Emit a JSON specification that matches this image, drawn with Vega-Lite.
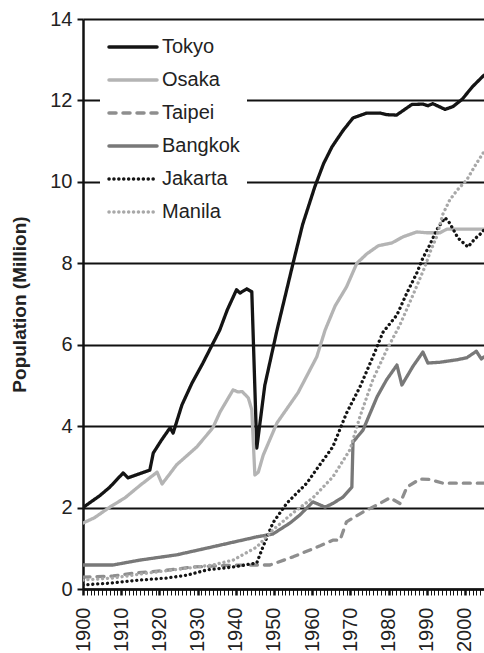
{
  "$schema": "https://vega.github.io/schema/vega-lite/v6.json",
  "autosize": {"type": "none"},
  "width": 401,
  "height": 570,
  "padding": {"left": 83, "top": 19, "right": 0, "bottom": 64},
  "background": "white",
  "config": {
    "font": "Liberation Sans",
    "view": {"stroke": null}
  },
  "data": {
    "values": [
      {"city": "Tokyo", "year": 1900, "pop": 2.0},
      {"city": "Tokyo", "year": 1904.5, "pop": 2.3},
      {"city": "Tokyo", "year": 1907, "pop": 2.5},
      {"city": "Tokyo", "year": 1910.5, "pop": 2.85},
      {"city": "Tokyo", "year": 1911.8, "pop": 2.73},
      {"city": "Tokyo", "year": 1917.5, "pop": 2.92},
      {"city": "Tokyo", "year": 1918.4, "pop": 3.34},
      {"city": "Tokyo", "year": 1920.5, "pop": 3.65},
      {"city": "Tokyo", "year": 1922.8, "pop": 3.96},
      {"city": "Tokyo", "year": 1923.6, "pop": 3.83},
      {"city": "Tokyo", "year": 1925.9, "pop": 4.52},
      {"city": "Tokyo", "year": 1928.5, "pop": 5.05},
      {"city": "Tokyo", "year": 1931.4, "pop": 5.55},
      {"city": "Tokyo", "year": 1935.8, "pop": 6.36},
      {"city": "Tokyo", "year": 1937.8, "pop": 6.86},
      {"city": "Tokyo", "year": 1940.2, "pop": 7.35},
      {"city": "Tokyo", "year": 1941.1, "pop": 7.27},
      {"city": "Tokyo", "year": 1942.9, "pop": 7.37},
      {"city": "Tokyo", "year": 1944.2, "pop": 7.3},
      {"city": "Tokyo", "year": 1945.5, "pop": 3.46},
      {"city": "Tokyo", "year": 1947.6, "pop": 5.0},
      {"city": "Tokyo", "year": 1950.8, "pop": 6.36},
      {"city": "Tokyo", "year": 1955, "pop": 8.0},
      {"city": "Tokyo", "year": 1957.5, "pop": 8.95},
      {"city": "Tokyo", "year": 1960.7, "pop": 9.88},
      {"city": "Tokyo", "year": 1963, "pop": 10.45},
      {"city": "Tokyo", "year": 1965.2, "pop": 10.86},
      {"city": "Tokyo", "year": 1968, "pop": 11.25},
      {"city": "Tokyo", "year": 1970.7, "pop": 11.57},
      {"city": "Tokyo", "year": 1974.3, "pop": 11.69},
      {"city": "Tokyo", "year": 1977.7, "pop": 11.69},
      {"city": "Tokyo", "year": 1979.5, "pop": 11.65},
      {"city": "Tokyo", "year": 1982.1, "pop": 11.64},
      {"city": "Tokyo", "year": 1986.1, "pop": 11.9},
      {"city": "Tokyo", "year": 1989, "pop": 11.91},
      {"city": "Tokyo", "year": 1990.3, "pop": 11.87},
      {"city": "Tokyo", "year": 1991.6, "pop": 11.92},
      {"city": "Tokyo", "year": 1994.8, "pop": 11.78},
      {"city": "Tokyo", "year": 1996.9, "pop": 11.85},
      {"city": "Tokyo", "year": 1999.3, "pop": 12.03},
      {"city": "Tokyo", "year": 2002, "pop": 12.34},
      {"city": "Tokyo", "year": 2005, "pop": 12.62},

      {"city": "Osaka", "year": 1900, "pop": 1.62},
      {"city": "Osaka", "year": 1903, "pop": 1.75},
      {"city": "Osaka", "year": 1907, "pop": 2.01},
      {"city": "Osaka", "year": 1911, "pop": 2.24},
      {"city": "Osaka", "year": 1915, "pop": 2.55},
      {"city": "Osaka", "year": 1919.4, "pop": 2.87},
      {"city": "Osaka", "year": 1920.7, "pop": 2.58},
      {"city": "Osaka", "year": 1922.5, "pop": 2.8},
      {"city": "Osaka", "year": 1924.5, "pop": 3.05},
      {"city": "Osaka", "year": 1929.8, "pop": 3.49},
      {"city": "Osaka", "year": 1934, "pop": 3.96},
      {"city": "Osaka", "year": 1935.9, "pop": 4.35},
      {"city": "Osaka", "year": 1939.3, "pop": 4.89},
      {"city": "Osaka", "year": 1940.6, "pop": 4.84},
      {"city": "Osaka", "year": 1941.7, "pop": 4.85},
      {"city": "Osaka", "year": 1943.3, "pop": 4.69},
      {"city": "Osaka", "year": 1944.2, "pop": 4.4},
      {"city": "Osaka", "year": 1945, "pop": 2.8},
      {"city": "Osaka", "year": 1945.9, "pop": 2.87},
      {"city": "Osaka", "year": 1947.2, "pop": 3.29},
      {"city": "Osaka", "year": 1950.8, "pop": 4.08},
      {"city": "Osaka", "year": 1956.3, "pop": 4.82},
      {"city": "Osaka", "year": 1961.2, "pop": 5.7},
      {"city": "Osaka", "year": 1963.4, "pop": 6.36},
      {"city": "Osaka", "year": 1966, "pop": 6.95},
      {"city": "Osaka", "year": 1969, "pop": 7.42},
      {"city": "Osaka", "year": 1971.7, "pop": 8.0},
      {"city": "Osaka", "year": 1974.3, "pop": 8.23},
      {"city": "Osaka", "year": 1977.3, "pop": 8.43},
      {"city": "Osaka", "year": 1980.9, "pop": 8.5},
      {"city": "Osaka", "year": 1983.8, "pop": 8.65},
      {"city": "Osaka", "year": 1987.4, "pop": 8.77},
      {"city": "Osaka", "year": 1990, "pop": 8.75},
      {"city": "Osaka", "year": 1993.5, "pop": 8.75},
      {"city": "Osaka", "year": 1995.3, "pop": 8.84},
      {"city": "Osaka", "year": 2005, "pop": 8.84},

      {"city": "Taipei", "year": 1900, "pop": 0.29},
      {"city": "Taipei", "year": 1907.9, "pop": 0.32},
      {"city": "Taipei", "year": 1913.2, "pop": 0.39},
      {"city": "Taipei", "year": 1921, "pop": 0.45},
      {"city": "Taipei", "year": 1928.9, "pop": 0.54},
      {"city": "Taipei", "year": 1937.6, "pop": 0.58},
      {"city": "Taipei", "year": 1945.5, "pop": 0.59},
      {"city": "Taipei", "year": 1949, "pop": 0.59},
      {"city": "Taipei", "year": 1955, "pop": 0.79},
      {"city": "Taipei", "year": 1962.1, "pop": 1.06},
      {"city": "Taipei", "year": 1965.4, "pop": 1.2},
      {"city": "Taipei", "year": 1967.3, "pop": 1.2},
      {"city": "Taipei", "year": 1969, "pop": 1.65},
      {"city": "Taipei", "year": 1973.3, "pop": 1.89},
      {"city": "Taipei", "year": 1977.7, "pop": 2.1},
      {"city": "Taipei", "year": 1980.4, "pop": 2.24},
      {"city": "Taipei", "year": 1983, "pop": 2.1},
      {"city": "Taipei", "year": 1984.8, "pop": 2.5},
      {"city": "Taipei", "year": 1988.2, "pop": 2.7},
      {"city": "Taipei", "year": 1990.8, "pop": 2.69},
      {"city": "Taipei", "year": 1994.2, "pop": 2.6},
      {"city": "Taipei", "year": 2005, "pop": 2.6},

      {"city": "Bangkok", "year": 1900, "pop": 0.59},
      {"city": "Bangkok", "year": 1907.9, "pop": 0.59},
      {"city": "Bangkok", "year": 1914.9, "pop": 0.71},
      {"city": "Bangkok", "year": 1924.6, "pop": 0.84},
      {"city": "Bangkok", "year": 1935.1, "pop": 1.06},
      {"city": "Bangkok", "year": 1945.5, "pop": 1.28},
      {"city": "Bangkok", "year": 1949.7, "pop": 1.35},
      {"city": "Bangkok", "year": 1954.2, "pop": 1.62},
      {"city": "Bangkok", "year": 1956.8, "pop": 1.82},
      {"city": "Bangkok", "year": 1960.2, "pop": 2.14},
      {"city": "Bangkok", "year": 1963.4, "pop": 2.01},
      {"city": "Bangkok", "year": 1965.4, "pop": 2.1},
      {"city": "Bangkok", "year": 1968.1, "pop": 2.26},
      {"city": "Bangkok", "year": 1970.4, "pop": 2.5},
      {"city": "Bangkok", "year": 1970.7, "pop": 3.61},
      {"city": "Bangkok", "year": 1973.3, "pop": 3.9},
      {"city": "Bangkok", "year": 1977, "pop": 4.72},
      {"city": "Bangkok", "year": 1979.5, "pop": 5.14},
      {"city": "Bangkok", "year": 1982.2, "pop": 5.5},
      {"city": "Bangkok", "year": 1983.5, "pop": 5.01},
      {"city": "Bangkok", "year": 1986.4, "pop": 5.47},
      {"city": "Bangkok", "year": 1989, "pop": 5.82},
      {"city": "Bangkok", "year": 1990.3, "pop": 5.55},
      {"city": "Bangkok", "year": 1993.5, "pop": 5.57},
      {"city": "Bangkok", "year": 1997.9, "pop": 5.63},
      {"city": "Bangkok", "year": 2000.5, "pop": 5.68},
      {"city": "Bangkok", "year": 2003, "pop": 5.84},
      {"city": "Bangkok", "year": 2004.3, "pop": 5.65},
      {"city": "Bangkok", "year": 2005, "pop": 5.7},

      {"city": "Jakarta", "year": 1900, "pop": 0.1},
      {"city": "Jakarta", "year": 1907.9, "pop": 0.15},
      {"city": "Jakarta", "year": 1914.9, "pop": 0.22},
      {"city": "Jakarta", "year": 1922, "pop": 0.27},
      {"city": "Jakarta", "year": 1927.2, "pop": 0.34},
      {"city": "Jakarta", "year": 1932.5, "pop": 0.47},
      {"city": "Jakarta", "year": 1939.3, "pop": 0.54},
      {"city": "Jakarta", "year": 1945.5, "pop": 0.64},
      {"city": "Jakarta", "year": 1947.1, "pop": 1.03},
      {"city": "Jakarta", "year": 1949.7, "pop": 1.62},
      {"city": "Jakarta", "year": 1953.4, "pop": 2.11},
      {"city": "Jakarta", "year": 1958.6, "pop": 2.6},
      {"city": "Jakarta", "year": 1962, "pop": 3.05},
      {"city": "Jakarta", "year": 1965.4, "pop": 3.49},
      {"city": "Jakarta", "year": 1969, "pop": 4.32},
      {"city": "Jakarta", "year": 1972.5, "pop": 4.96},
      {"city": "Jakarta", "year": 1975.9, "pop": 5.7},
      {"city": "Jakarta", "year": 1978.5, "pop": 6.3},
      {"city": "Jakarta", "year": 1982.2, "pop": 6.73},
      {"city": "Jakarta", "year": 1984.8, "pop": 7.27},
      {"city": "Jakarta", "year": 1987.4, "pop": 7.76},
      {"city": "Jakarta", "year": 1989, "pop": 8.13},
      {"city": "Jakarta", "year": 1990.8, "pop": 8.45},
      {"city": "Jakarta", "year": 1992.6, "pop": 8.82},
      {"city": "Jakarta", "year": 1994.8, "pop": 9.12},
      {"city": "Jakarta", "year": 1996, "pop": 8.99},
      {"city": "Jakarta", "year": 1998.2, "pop": 8.62},
      {"city": "Jakarta", "year": 2000.8, "pop": 8.4},
      {"city": "Jakarta", "year": 2002.6, "pop": 8.6},
      {"city": "Jakarta", "year": 2004.4, "pop": 8.75},
      {"city": "Jakarta", "year": 2005, "pop": 8.82},

      {"city": "Manila", "year": 1900, "pop": 0.22},
      {"city": "Manila", "year": 1907.9, "pop": 0.27},
      {"city": "Manila", "year": 1916.8, "pop": 0.39},
      {"city": "Manila", "year": 1925.4, "pop": 0.49},
      {"city": "Manila", "year": 1934, "pop": 0.59},
      {"city": "Manila", "year": 1939.3, "pop": 0.71},
      {"city": "Manila", "year": 1945.5, "pop": 1.03},
      {"city": "Manila", "year": 1949.7, "pop": 1.45},
      {"city": "Manila", "year": 1955, "pop": 1.87},
      {"city": "Manila", "year": 1960.2, "pop": 2.24},
      {"city": "Manila", "year": 1965.4, "pop": 2.75},
      {"city": "Manila", "year": 1969.9, "pop": 3.42},
      {"city": "Manila", "year": 1972.5, "pop": 4.23},
      {"city": "Manila", "year": 1975.9, "pop": 5.14},
      {"city": "Manila", "year": 1979.5, "pop": 5.87},
      {"city": "Manila", "year": 1983, "pop": 6.49},
      {"city": "Manila", "year": 1986.4, "pop": 7.22},
      {"city": "Manila", "year": 1989.5, "pop": 7.91},
      {"city": "Manila", "year": 1991, "pop": 8.3},
      {"city": "Manila", "year": 1992.6, "pop": 8.65},
      {"city": "Manila", "year": 1994.2, "pop": 9.2},
      {"city": "Manila", "year": 1996, "pop": 9.55},
      {"city": "Manila", "year": 1998, "pop": 9.8},
      {"city": "Manila", "year": 2000.5, "pop": 10.05},
      {"city": "Manila", "year": 2003, "pop": 10.45},
      {"city": "Manila", "year": 2005, "pop": 10.74}
    ]
  },
  "mark": {"type": "line", "strokeWidth": 3.3, "strokeCap": "round", "strokeJoin": "round", "clip": true},
  "encoding": {
    "x": {
      "field": "year",
      "type": "quantitative",
      "scale": {"domain": [1900, 2005], "nice": false, "zero": false},
      "axis": {
        "title": null,
        "values": [1900,1901,1902,1903,1904,1905,1906,1907,1908,1909,1910,1911,1912,1913,1914,1915,1916,1917,1918,1919,1920,1921,1922,1923,1924,1925,1926,1927,1928,1929,1930,1931,1932,1933,1934,1935,1936,1937,1938,1939,1940,1941,1942,1943,1944,1945,1946,1947,1948,1949,1950,1951,1952,1953,1954,1955,1956,1957,1958,1959,1960,1961,1962,1963,1964,1965,1966,1967,1968,1969,1970,1971,1972,1973,1974,1975,1976,1977,1978,1979,1980,1981,1982,1983,1984,1985,1986,1987,1988,1989,1990,1991,1992,1993,1994,1995,1996,1997,1998,1999,2000,2001,2002,2003,2004,2005],
        "labelExpr": "datum.value % 10 === 0 ? datum.value : ''",
        "labelOverlap": false,
        "labelAngle": 270,
        "labelAlign": "right",
        "labelBaseline": "middle",
        "labelFontSize": 20,
        "labelColor": "#222",
        "labelPadding": 12,
        "labelFlush": false,
        "grid": false,
        "domainColor": "#111",
        "domainWidth": 2.5,
        "tickColor": "#111",
        "tickSize": 6,
        "tickWidth": {"condition": {"test": "datum.value % 10 === 0", "value": 2.5}, "value": 1}
      }
    },
    "y": {
      "field": "pop",
      "type": "quantitative",
      "scale": {"domain": [0, 14], "nice": false},
      "axis": {
        "title": "Population (Million)",
        "titleFontSize": 19,
        "titleFontWeight": "bold",
        "titleColor": "#222",
        "titlePadding": 20,
        "values": [0, 2, 4, 6, 8, 10, 12, 14],
        "labelFontSize": 20,
        "labelColor": "#222",
        "labelPadding": 5,
        "grid": true,
        "gridColor": "#111",
        "gridWidth": 2,
        "gridOpacity": 1,
        "domainColor": "#111",
        "domainWidth": 2.5,
        "tickColor": "#111",
        "tickSize": 6,
        "tickWidth": 2
      }
    },
    "color": {
      "field": "city",
      "type": "nominal",
      "scale": {
        "domain": ["Tokyo", "Osaka", "Taipei", "Bangkok", "Jakarta", "Manila"],
        "range": ["#141414", "#b4b4b4", "#8e8e8e", "#787878", "#141414", "#a8a8a8"]
      },
      "legend": {
        "title": null,
        "orient": "none",
        "legendX": 17,
        "legendY": 8,
        "fillColor": "white",
        "padding": 7,
        "symbolType": "stroke",
        "symbolSize": 2304,
        "symbolStrokeWidth": 3.5,
        "labelFontSize": 20,
        "labelColor": "#222",
        "labelOffset": 3,
        "clipHeight": 26,
        "rowPadding": 7,
        "encode": {"symbols": {"update": {"strokeCap": {"value": "round"}}}}
      }
    },
    "strokeDash": {
      "field": "city",
      "type": "nominal",
      "scale": {
        "domain": ["Tokyo", "Osaka", "Taipei", "Bangkok", "Jakarta", "Manila"],
        "range": [[1, 0], [1, 0], [7, 7], [1, 0], [0.1, 4.8], [0.1, 4.8]]
      },
      "legend": null
    }
  }
}
